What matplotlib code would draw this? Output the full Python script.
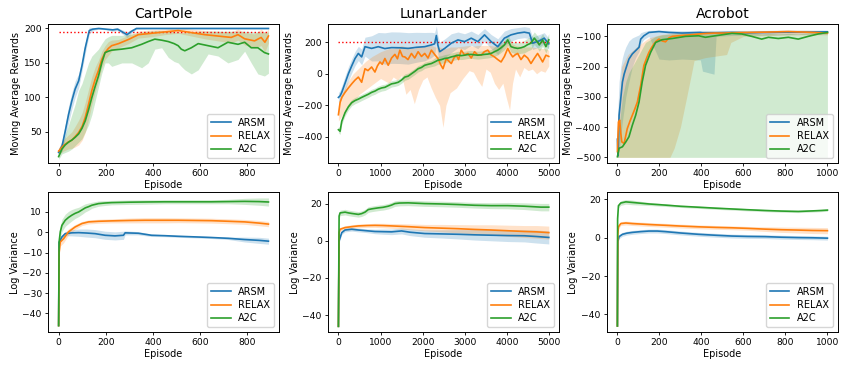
import numpy as np
import matplotlib
matplotlib.use("Agg")
import matplotlib.pyplot as plt

# ---------------- CartPole : moving average rewards ----------------
cp_arsm_ep = [0, 15, 28, 42, 56, 70, 85, 99, 113, 130,
              145, 170, 200, 230, 250, 270, 290, 310, 330, 400,
              500, 600, 700, 800, 890]
cp_arsm = [20, 30, 51, 75, 95, 112, 124, 146, 172, 197,
           199, 200, 199, 198, 199, 195, 191, 196, 200, 200,
           200, 200, 200, 200, 200]
cp_arsm_sd = [5, 8, 10, 12, 12, 12, 10, 8, 8, 5,
              2, 1, 1, 2, 2, 3, 4, 3, 1, 0.5,
              0.5, 0.5, 0.5, 0.5, 0.5]

cp_relax_ep = [0, 20, 40, 56, 70, 85, 100, 113, 127, 141,
               155, 169, 183, 197, 211, 225, 254, 296, 338, 394,
               451, 507, 563, 620, 676, 732, 761, 789, 831, 859,
               875, 890]
cp_relax = [22, 30, 35, 38, 43, 49, 58, 71, 90, 110,
            126, 139, 155, 165, 171, 175, 178, 184, 191, 193,
            195, 197, 194, 191, 189, 187, 191, 185, 182, 187,
            180, 189]
cp_relax_sd = [5, 8, 10, 12, 15, 18, 20, 22, 22, 20,
               18, 15, 12, 10, 10, 8, 6, 6, 5, 5,
               4, 4, 5, 6, 7, 8, 8, 9, 10, 12,
               14, 10]

cp_a2c_ep = [0, 14, 28, 42, 56, 70, 85, 99, 113, 127,
             141, 155, 169, 183, 197, 211, 225, 268, 310, 352,
             380, 408, 437, 465, 490, 507, 520, 535, 563, 592,
             634, 676, 718, 761, 789, 817, 845, 873, 890]
cp_a2c = [14, 25, 31, 35, 38, 42, 47, 55, 66, 82,
          100, 116, 131, 150, 165, 167, 168.5, 170, 172, 177,
          181, 184.5, 183, 181, 178, 175, 170, 167.6, 172, 178,
          175, 172, 180, 177, 180, 172, 172, 165, 163]
cp_a2c_lo = [10, 18, 20, 22, 25, 30, 35, 40, 50, 60,
             75, 95, 115, 135, 150, 150, 145, 150, 150, 143,
             150, 170, 172, 158, 152, 150, 145, 140, 134, 140,
             163, 160, 150, 155, 167, 150, 134, 131, 135]
cp_a2c_hi = [18, 30, 45, 60, 75, 90, 110, 120, 135, 150,
             160, 165, 170, 178, 185, 188, 190, 190, 192, 195,
             196, 197, 197, 196, 195, 195, 194, 194, 195, 196,
             196, 196, 196, 196, 196, 195, 195, 195, 195]

# ---------------- LunarLander : moving average rewards ----------------
ll_arsm_ep = [0, 40, 79, 157, 236, 315, 394, 472, 551, 630,
              787, 945, 1100, 1260, 1450, 1654, 1850, 2047, 2205, 2280,
              2323, 2360, 2402, 2520, 2677, 2835, 2992, 3150, 3307, 3465,
              3622, 3780, 3937, 4094, 4252, 4409, 4528, 4606, 4764, 4882,
              4990]
ll_arsm = [-150, -140, -118, -60, 0, 50, 97, 129, 107, 172,
           161, 172, 160, 166, 165, 161, 168, 172, 183, 190,
           243, 180, 140, 161, 194, 215, 204, 226, 204, 247,
           204, 172, 226, 247, 258, 264, 258, 194, 209, 226,
           190]
ll_arsm_sd = [30, 35, 40, 45, 45, 45, 45, 45, 50, 60,
              80, 90, 100, 100, 100, 100, 95, 90, 80, 70,
              60, 60, 60, 60, 60, 50, 50, 45, 45, 40,
              45, 50, 45, 40, 35, 35, 35, 40, 40, 35,
              35]

ll_relax_ep = [0, 39, 79, 157, 236, 315, 394, 472, 551, 630,
               700, 787, 866, 925, 984, 1040, 1102, 1181, 1260, 1339,
               1400, 1457, 1520, 1575, 1650, 1732, 1810, 1890, 1970, 2047,
               2125, 2205, 2290, 2362, 2420, 2480, 2559, 2620, 2677, 2740,
               2795, 2850, 2913, 2990, 3071, 3150, 3228, 3300, 3386, 3460,
               3543, 3620, 3701, 3780, 3858, 3937, 4016, 4075, 4134, 4190,
               4252, 4330, 4409, 4490, 4567, 4650, 4724, 4790, 4843, 4921,
               4990]
ll_relax = [-260, -183, -150, -118, -90, -64, -40, -21, -54, 32,
            20, 43, 11, 50, 75, 60, 97, 54, 100, 123,
            95, 150, 110, 107, 90, 129, 100, 140, 110, 129,
            100, 150, 120, 97, 60, 32, 97, 80, 65, 100,
            118, 90, 150, 120, 129, 100, 140, 120, 118, 140,
            150, 120, 107, 90, 75, 110, 161, 130, 107, 120,
            129, 90, 118, 100, 65, 100, 129, 100, 75, 118,
            110]
ll_relax_bx = [0, 100, 200, 350, 500, 650, 800, 1000, 1200, 1300,
               1400, 1500, 1600, 1700, 1800, 1900, 2000, 2100, 2200, 2300,
               2400, 2480, 2550, 2650, 2800, 2950, 3100, 3200, 3300, 3400,
               3500, 3600, 3700, 3800, 3900, 3980, 4060, 4130, 4200, 4300,
               4400, 4500, 4600, 4700, 4800, 4900, 4990]
ll_relax_lo = [-300, -260, -220, -180, -130, -100, -70, -30, -60, -20,
               -40, -10, -130, -100, -190, -100, -40, -20, -90, -150,
               -200, -340, -200, -120, -90, -30, 20, 10, -40, -80,
               30, 10, -60, -100, -60, -150, -230, -60, 30, -20,
               40, 20, 30, 0, 20, 10, 50]
ll_relax_hi = [-200, -120, -60, 0, 40, 80, 110, 140, 160, 160,
               170, 180, 170, 170, 160, 175, 170, 175, 180, 170,
               170, 160, 160, 170, 170, 175, 180, 175, 180, 180,
               180, 180, 175, 185, 190, 200, 200, 190, 180, 175,
               170, 170, 170, 165, 160, 160, 150]

ll_a2c_ep = [0, 39, 79, 157, 236, 315, 394, 472, 551, 630,
             709, 787, 866, 945, 1024, 1102, 1181, 1260, 1339, 1417,
             1496, 1575, 1654, 1732, 1811, 1890, 1969, 2047, 2126, 2205,
             2283, 2362, 2441, 2520, 2598, 2677, 2756, 2835, 2913, 2992,
             3071, 3150, 3228, 3307, 3386, 3465, 3543, 3622, 3701, 3780,
             3858, 3937, 4016, 4094, 4173, 4252, 4331, 4409, 4488, 4567,
             4646, 4725, 4764, 4843, 4921, 4990]
ll_a2c = [-355, -365, -301, -247, -210, -183, -170, -161, -150, -140,
          -130, -118, -110, -98, -90, -86, -75, -64, -60, -54,
          -40, -21, -15, 0, 15, 32, 40, 54, 60, 65,
          75, 86, 90, 97, 100, 107, 112, 118, 115, 118,
          122, 123, 120, 118, 120, 123, 125, 129, 140, 150,
          165, 183, 215, 172, 165, 161, 165, 172, 185, 194,
          226, 200, 183, 215, 172, 215]
ll_a2c_sd = [20, 20, 20, 20, 20, 20, 20, 20, 20, 20,
             20, 20, 20, 20, 20, 20, 20, 20, 20, 20,
             20, 20, 20, 20, 20, 20, 20, 20, 20, 20,
             25, 25, 25, 25, 25, 25, 25, 25, 25, 25,
             25, 25, 25, 25, 25, 25, 25, 25, 30, 30,
             30, 30, 35, 35, 35, 35, 35, 40, 40, 40,
             40, 40, 40, 40, 40, 40]

# ---------------- Acrobot : moving average rewards ----------------
ac_arsm_ep = [0, 3, 8, 16, 24, 32, 40, 55, 71, 87,
              103, 111, 126, 150, 198, 245, 308, 395, 405, 460,
              470, 545, 620, 703, 800, 900, 1000]
ac_arsm = [-440, -495, -361, -306, -251, -225, -207, -175, -158, -147,
           -136, -109, -98, -87, -84, -87, -89, -87, -88, -88,
           -88, -87, -88, -87, -86, -86, -85]
ac_arsm_lo = [-500, -500, -480, -430, -380, -340, -300, -250, -200, -170,
              -150, -125, -110, -100, -175, -178, -175, -178, -215, -225,
              -100, -97, -96, -96, -94, -93, -92]
ac_arsm_hi = [-380, -330, -250, -200, -170, -150, -135, -115, -105, -100,
              -95, -88, -84, -80, -79, -80, -81, -80, -80, -80,
              -80, -80, -80, -80, -79, -79, -79]

ac_relax_ep = [0, 5, 11, 16, 21, 32, 47, 60, 71, 83,
               95, 111, 126, 140, 150, 162, 174, 186, 198, 213,
               229, 245, 261, 290, 324, 360, 387, 430, 466, 510,
               545, 620, 703, 760, 814, 900, 1000]
ac_relax = [-481, -383, -377, -420, -449, -454, -405, -380, -361, -340,
            -317, -262, -196, -170, -153, -138, -125, -115, -109, -115,
            -118, -105, -100, -98, -96, -94, -92, -90, -89, -89,
            -88, -87, -86, -85, -84, -86, -89]
ac_relax_bx = [0, 20, 50, 100, 150, 200, 250, 270, 300, 330,
               355, 365, 420, 470, 520, 540, 600, 700, 800, 900,
               1000]
ac_relax_lo = [-500, -500, -500, -500, -500, -500, -500, -470, -400, -300,
               -215, -180, -170, -165, -160, -120, -100, -98, -96, -95,
               -95]
ac_relax_hi = [-400, -200, -160, -130, -105, -95, -90, -88, -86, -85,
               -84, -84, -83, -83, -82, -82, -82, -81, -80, -80,
               -82]

ac_a2c_ep = [0, 8, 24, 40, 55, 71, 87, 103, 118, 134,
             158, 182, 213, 261, 324, 387, 419, 466, 545, 592,
             640, 687, 719, 766, 814, 861, 908, 956, 1000]
ac_a2c = [-498, -470, -465, -449, -432, -394, -361, -317, -251, -196,
          -153, -120, -111, -107, -100, -98, -103, -98, -90, -92,
          -100, -109, -103, -107, -103, -109, -100, -92, -87]
ac_a2c_lo = [-500] * len(ac_a2c_ep)
ac_a2c_hi = [-480, -400, -300, -250, -220, -200, -180, -160, -140, -120,
             -110, -100, -95, -92, -90, -88, -88, -88, -85, -85,
             -88, -92, -90, -92, -90, -92, -88, -85, -82]

# ---------------- log variance ----------------
cpv_arsm_ep = [0, 2, 14, 28, 56, 85, 120, 155, 197, 239,
               275, 282, 338, 394, 450, 507, 580, 648, 720, 789,
               850, 890]
cpv_arsm = [-46, -5, -2.3, -0.7, -0.3, -0.2, -0.4, -0.7, -1.5, -1.8,
            -1.5, -0.3, -0.5, -1.5, -1.7, -2.0, -2.3, -2.6, -3.0, -3.6,
            -4.0, -4.4]
cpv_arsm_sd = [0, 1, 1, 1, 1.5, 1.8, 2, 2, 2, 2,
               2, 1, 0.8, 0.6, 0.5, 0.5, 0.5, 0.5, 0.6, 1.2,
               1.5, 1.5]
cpv_relax_ep = [0, 2, 7, 21, 42, 70, 99, 127, 170, 225,
                300, 366, 450, 507, 580, 648, 720, 789, 850, 890]
cpv_relax = [-46, -10, -4.8, -3.2, 0.2, 2.6, 4.3, 5.1, 5.4, 5.6,
             5.8, 5.9, 5.9, 5.9, 5.8, 5.7, 5.4, 5.1, 4.5, 4.0]
cpv_relax_sd = [0, 2, 2, 2, 1.5, 1.2, 1, 1, 1, 1,
                1.2, 1.3, 1.3, 1.2, 1.2, 1.2, 1.2, 1.2, 1.3, 1.3]
cpv_a2c_ep = [0, 2, 7, 14, 28, 42, 56, 70, 85, 99,
              113, 127, 141, 169, 197, 225, 300, 366, 450, 507,
              580, 648, 720, 789, 850, 890]
cpv_a2c = [-46, -4.8, 0.2, 3.4, 5.9, 7.3, 8.4, 9.3, 10, 11,
           12, 12.6, 13.3, 14.1, 14.4, 14.6, 14.8, 14.9, 15.0, 15.0,
           15.0, 15.0, 15.1, 15.2, 15.1, 14.9]
cpv_a2c_sd = [0, 3, 3, 3, 3, 3, 2.8, 2.5, 2.3, 2.2,
              2, 1.8, 1.5, 1.3, 1.2, 1.1, 1.1, 1.1, 1.0, 1.0,
              1.0, 1.0, 1.1, 1.5, 1.8, 2.0]

llv_arsm_ep = [0, 16, 79, 157, 315, 472, 670, 866, 1060, 1260,
               1496, 1700, 2047, 2440, 2835, 3230, 3622, 4016, 4409, 4700,
               4990]
llv_arsm = [-46, 0, 4.4, 5.8, 6.2, 5.8, 5.4, 5.0, 4.9, 4.8,
            5.3, 4.6, 3.9, 3.7, 3.5, 3.2, 3.0, 2.8, 2.7, 2.3,
            1.8]
llv_arsm_sd = [0, 1, 1, 1, 1, 1, 1, 1.2, 1.4, 1.5,
               1.6, 1.8, 2, 2.2, 2.5, 2.8, 3, 3.2, 3.3, 3.5,
               3.5]
llv_relax_ep = [0, 16, 39, 157, 315, 472, 670, 866, 1060, 1260,
                1650, 2047, 2440, 2835, 3230, 3622, 4016, 4409, 4700, 4990]
llv_relax = [-46, 4.4, 6.2, 7.1, 7.6, 8.0, 8.2, 8.3, 8.2, 8.0,
             7.6, 7.1, 6.8, 6.5, 6.1, 5.8, 5.4, 5.0, 4.8, 4.4]
llv_relax_sd = [0, 1, 1, 1, 1, 1, 1, 1.1, 1.2, 1.3,
                1.5, 1.7, 2, 2.2, 2.5, 2.8, 3, 3.2, 3.4, 3.5]
llv_a2c_ep = [0, 16, 39, 157, 236, 315, 472, 550, 630, 709,
              800, 945, 1060, 1181, 1260, 1339, 1450, 1654, 2047, 2441,
              2835, 3228, 3622, 4016, 4409, 4803, 4990]
llv_a2c = [-46, 13.3, 15, 15.4, 15.0, 14.7, 14.2, 14.6, 15.4, 16.8,
           17.2, 17.7, 18.0, 18.6, 19.2, 20.0, 20.3, 20.4, 20.0, 19.8,
           19.5, 19.1, 18.9, 18.9, 18.6, 18.1, 18.1]
llv_a2c_sd = [0, 1.5, 1.5, 1.5, 1.5, 1.5, 1.5, 1.5, 1.5, 1.5,
              1.5, 1.5, 1.5, 1.5, 1.5, 1.5, 1.5, 1.5, 1.5, 1.5,
              1.5, 1.5, 1.6, 1.7, 1.8, 2, 2]

acv_arsm_ep = [0, 2, 8, 24, 45, 71, 110, 150, 190, 229,
               300, 387, 470, 545, 620, 703, 780, 861, 930, 1000]
acv_arsm = [-46, -2, 0.5, 1.7, 2.3, 2.7, 3.1, 3.4, 3.4, 3.1,
            2.4, 1.7, 1.2, 0.8, 0.6, 0.5, 0.2, 0.0, -0.1, -0.3]
acv_arsm_sd = [0, 1, 1, 1, 1, 1, 1, 1, 1, 1,
               1, 1, 1, 1, 1, 1, 1, 1, 1, 1]
acv_relax_ep = [0, 2, 5, 16, 40, 71, 150, 229, 300, 387,
                470, 545, 620, 703, 780, 861, 930, 1000]
acv_relax = [-46, 1.4, 5.6, 7.3, 7.6, 7.3, 6.8, 6.4, 6.0, 5.6,
             5.3, 5.1, 4.8, 4.4, 4.1, 3.9, 3.7, 3.6]
acv_relax_sd = [0, 1, 1, 1, 1, 1, 1, 1, 1, 1,
                1, 1, 1, 1.2, 1.4, 1.5, 1.6, 1.6]
acv_a2c_ep = [0, 1, 5, 16, 40, 71, 110, 150, 229, 300,
              387, 470, 545, 620, 703, 780, 861, 930, 970, 1000]
acv_a2c = [-46, 9.8, 16.6, 18, 18.6, 18.3, 17.9, 17.5, 16.9, 16.3,
           15.8, 15.3, 14.9, 14.5, 14.1, 13.8, 13.6, 13.9, 14.1, 14.3]
acv_a2c_sd = [0, 1, 1, 1.2, 1.2, 1.2, 1, 0.8, 0.7, 0.6,
              0.6, 0.6, 0.6, 0.6, 0.6, 0.6, 0.6, 0.6, 0.6, 0.6]

methods = ["ARSM", "RELAX", "A2C"]
titles = ["CartPole", "LunarLander", "Acrobot"]
targets = [195, 200, None]
target_end = [890, 4990, None]

colors = ["#1f77b4", "#ff7f0e", "#2ca02c"]
TICK_FS = 6.6
LABEL_FS = 7.0


def sd_band(ep, y, sd):
    y = np.asarray(y, float)
    sd = np.asarray(sd, float)
    return ep, y - sd, y + sd


top_series = [
    [(cp_arsm_ep, cp_arsm, sd_band(cp_arsm_ep, cp_arsm, cp_arsm_sd)),
     (cp_relax_ep, cp_relax, sd_band(cp_relax_ep, cp_relax, cp_relax_sd)),
     (cp_a2c_ep, cp_a2c, (cp_a2c_ep, cp_a2c_lo, cp_a2c_hi))],
    [(ll_arsm_ep, ll_arsm, sd_band(ll_arsm_ep, ll_arsm, ll_arsm_sd)),
     (ll_relax_ep, ll_relax, (ll_relax_bx, ll_relax_lo, ll_relax_hi)),
     (ll_a2c_ep, ll_a2c, sd_band(ll_a2c_ep, ll_a2c, ll_a2c_sd))],
    [(ac_arsm_ep, ac_arsm, (ac_arsm_ep, ac_arsm_lo, ac_arsm_hi)),
     (ac_relax_ep, ac_relax, (ac_relax_bx, ac_relax_lo, ac_relax_hi)),
     (ac_a2c_ep, ac_a2c, (ac_a2c_ep, ac_a2c_lo, ac_a2c_hi))],
]
bottom_series = [
    [(cpv_arsm_ep, cpv_arsm, sd_band(cpv_arsm_ep, cpv_arsm, cpv_arsm_sd)),
     (cpv_relax_ep, cpv_relax, sd_band(cpv_relax_ep, cpv_relax, cpv_relax_sd)),
     (cpv_a2c_ep, cpv_a2c, sd_band(cpv_a2c_ep, cpv_a2c, cpv_a2c_sd))],
    [(llv_arsm_ep, llv_arsm, sd_band(llv_arsm_ep, llv_arsm, llv_arsm_sd)),
     (llv_relax_ep, llv_relax, sd_band(llv_relax_ep, llv_relax, llv_relax_sd)),
     (llv_a2c_ep, llv_a2c, sd_band(llv_a2c_ep, llv_a2c, llv_a2c_sd))],
    [(acv_arsm_ep, acv_arsm, sd_band(acv_arsm_ep, acv_arsm, acv_arsm_sd)),
     (acv_relax_ep, acv_relax, sd_band(acv_relax_ep, acv_relax, acv_relax_sd)),
     (acv_a2c_ep, acv_a2c, sd_band(acv_a2c_ep, acv_a2c, acv_a2c_sd))],
]

xlims = [(-45, 935), (-245, 5235), (-50, 1050)]
top_ylims = [(4.6, 206.5), (-567, 316), (-519, -59)]
bot_ylims = [(-49.2, 19.7), (-49.1, 26.1), (-49.2, 23.6)]
xticks = [[0, 200, 400, 600, 800], [0, 1000, 2000, 3000, 4000, 5000],
          [0, 200, 400, 600, 800, 1000]]

lefts = [0.0565, 0.386, 0.714]
width = 0.2718

fig = plt.figure(figsize=(8.5, 3.69), dpi=100)


def draw(ax, series):
    for (ep, y, band), c, name in zip(series, colors, methods):
        bx, lo, hi = band
        ax.fill_between(bx, lo, hi, color=c, alpha=0.22, linewidth=0)
        ax.plot(ep, y, color=c, linewidth=1.2, label=name)
    ax.tick_params(labelsize=TICK_FS, length=2.5, width=0.6, pad=2)
    for s in ax.spines.values():
        s.set_linewidth(0.7)
    ax.legend(loc="lower right", fontsize=LABEL_FS, handlelength=2.0,
              borderpad=0.4, labelspacing=0.35, framealpha=0.8)


for i in range(3):
    ax = fig.add_axes([lefts[i], 0.558, width, 0.377])
    if targets[i] is not None:
        ax.plot([0, target_end[i]], [targets[i], targets[i]], color="red",
                linestyle=":", linewidth=1.0)
    draw(ax, top_series[i])
    ax.set_xlim(*xlims[i])
    ax.set_ylim(*top_ylims[i])
    ax.set_xticks(xticks[i])
    ax.set_title(titles[i], fontsize=10, pad=4)
    ax.set_ylabel("Moving Average Rewards", fontsize=LABEL_FS, labelpad=2)
    ax.set_xlabel("Episode", fontsize=LABEL_FS, labelpad=1)

    axb = fig.add_axes([lefts[i], 0.100, width, 0.379])
    draw(axb, bottom_series[i])
    axb.set_xlim(*xlims[i])
    axb.set_ylim(*bot_ylims[i])
    axb.set_xticks(xticks[i])
    axb.set_ylabel("Log Variance", fontsize=LABEL_FS, labelpad=2)
    axb.set_xlabel("Episode", fontsize=LABEL_FS, labelpad=1)

fig.savefig("out.png", dpi=100)
